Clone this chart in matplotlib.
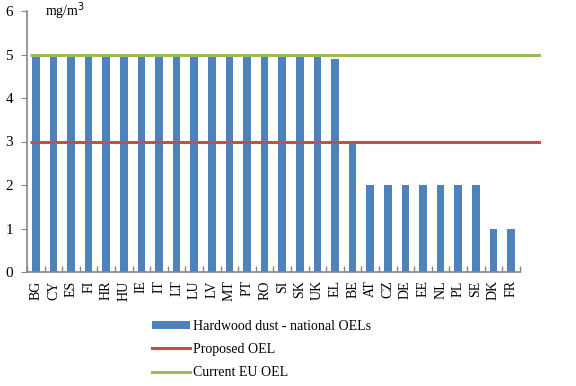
import matplotlib
matplotlib.use("Agg")
from matplotlib import pyplot as plt
from matplotlib.patches import Patch
from matplotlib.lines import Line2D
import numpy as np

countries = ["BG", "CY", "ES", "FI", "HR", "HU", "IE", "IT", "LT", "LU", "LV", "MT", "PT", "RO",
             "SI", "SK", "UK", "EL", "BE", "AT", "CZ", "DE", "EE", "NL", "PL", "SE", "DK", "FR"]
national_oels = [5, 5, 5, 5, 5, 5, 5, 5, 5, 5, 5, 5, 5, 5,
                 5, 5, 5, 4.9, 3, 2, 2, 2, 2, 2, 2, 2, 1, 1]
proposed_oel = 3
current_eu_oel = 5

bar_color = "#4F81BD"
red = "#C0504D"
green = "#9BBB59"
axis_gray = "#868686"

plt.rcParams['font.family'] = ['Liberation Serif', 'DejaVu Serif']

fig = plt.figure(figsize=(5.76, 3.86), dpi=100)
ax = fig.add_axes([27 / 576, 1 - 272 / 386, (541 - 27) / 576, (272 - 11) / 386])

x = np.arange(len(countries))
ax.bar(x, national_oels, width=0.43, color=bar_color, zorder=2)
ax.hlines(proposed_oel, -0.35, 28.7, color=red, linewidth=2.2, zorder=3)
ax.hlines(current_eu_oel, -0.35, 28.7, color=green, linewidth=2.2, zorder=3)

ax.set_xlim(-0.5, 28.7)
ax.set_ylim(0, 6)

for s in ["top", "right"]:
    ax.spines[s].set_visible(False)
for s in ["left", "bottom"]:
    ax.spines[s].set_color(axis_gray)
    ax.spines[s].set_linewidth(1.2)
ax.spines["bottom"].set_bounds(-0.5, len(countries) - 0.5)

ax.set_xticks(x)
ax.set_xticklabels(countries, rotation=90, fontsize=10)
ax.tick_params(axis="x", which="major", length=0, pad=6)
ax.set_xticks(np.arange(len(countries) + 1) - 0.5, minor=True)
ax.tick_params(axis="x", which="minor", direction="in", length=4, color=axis_gray, width=1)

ax.set_yticks(range(7))
ax.tick_params(axis="y", direction="out", length=4, color=axis_gray, labelsize=11, pad=6)

ax.text(0.5, 6.0, "mg/m$^3$", fontsize=10, va="center", ha="left")

handles = [Patch(facecolor=bar_color, edgecolor="none"),
           Line2D([0], [0], color=red, linewidth=2.2),
           Line2D([0], [0], color=green, linewidth=2.2)]
labels = ["Hardwood dust - national OELs", "Proposed OEL", "Current EU OEL"]
fig.legend(handles, labels, loc="upper left", bbox_to_anchor=(139 / 576, 1 - 307 / 386),
           frameon=False, fontsize=10, handlelength=2.8, handleheight=0.5,
           handletextpad=0.2, labelspacing=0.75)

fig.savefig("out.png", dpi=100)
